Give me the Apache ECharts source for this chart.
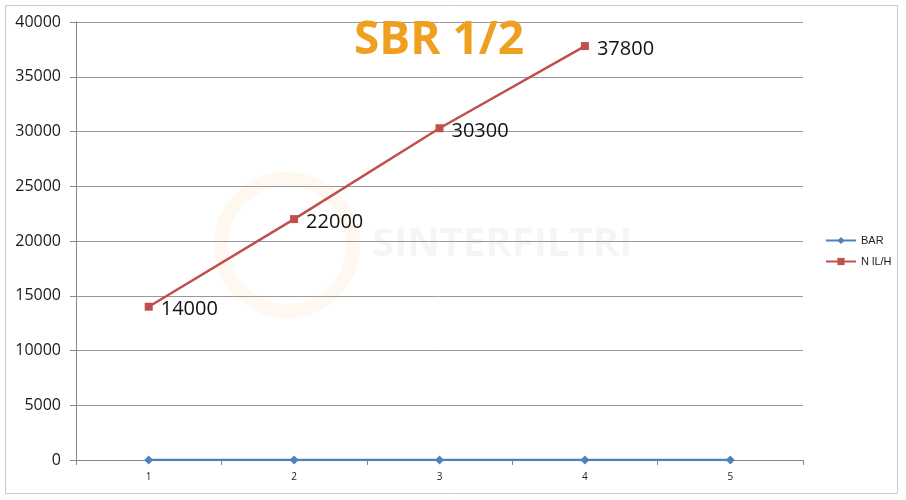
<!DOCTYPE html>
<html><head><meta charset="utf-8">
<script src="https://cdn.jsdelivr.net/npm/echarts@6/dist/echarts.min.js"></script>
<style>html,body{margin:0;padding:0;background:#fff}#c{width:906px;height:500px}</style>
</head><body><div id="c"></div>
<script>
const categories = ['1','2','3','4','5'];
const barValues = [6, 10, 10, 10, 10];
const flowValues = [14000, 22000, 30300, 37800];
const yTicks = {min: 0, max: 40000, interval: 5000};
const titleText = 'SBR 1/2';

const chart = echarts.init(document.getElementById('c'));
chart.setOption({
  animation: false,
  graphic: [
    {type: 'rect', shape: {x: 5.5, y: 5.5, width: 892, height: 488}, style: {fill: 'none', stroke: '#c8c8c8', lineWidth: 1}, z: -10},
    {type: 'circle', shape: {cx: 287, cy: 245, r: 66}, style: {fill: 'none', stroke: 'rgba(245,180,90,0.09)', lineWidth: 14}, z: -5},
    {type: 'text', left: 372, top: 225, style: {text: 'SINTERFILTRI', fill: 'rgba(0,0,0,0.04)', font: 'bold 40px "Open Sans"'}, z: -5}
  ],
  title: {text: titleText, left: 434, top: 13, textAlign: 'center',
    textStyle: {color: '#F0A020', fontSize: 46, fontWeight: 'bold', fontFamily: 'Open Sans'}},
  legend: {orient: 'vertical', left: 820, top: 230, itemGap: 10, itemWidth: 30, itemHeight: 9,
    textStyle: {fontSize: 11, color: '#222', fontFamily: 'Liberation Sans'},
    data: [{name: 'BAR'}, {name: 'N lL/H'}]},
  grid: {left: 76, right: 103, top: 22, bottom: 40},
  xAxis: {type: 'category', data: categories, boundaryGap: true,
    axisLine: {lineStyle: {color: '#888'}},
    axisTick: {show: true, length: 5, lineStyle: {color: '#888'}},
    axisLabel: {fontSize: 10, color: '#222', margin: 12, fontFamily: 'Open Sans'}},
  yAxis: {type: 'value', min: yTicks.min, max: yTicks.max, interval: yTicks.interval,
    axisLine: {show: true, lineStyle: {color: '#888'}},
    axisTick: {show: true, length: 6, lineStyle: {color: '#888'}},
    splitLine: {lineStyle: {color: '#999'}},
    axisLabel: {fontSize: 16, color: '#1a1a1a', margin: 15, fontFamily: 'Open Sans', formatter: v => String(v)}},
  series: [
    {name: 'BAR', type: 'line', data: barValues, symbol: 'diamond', symbolSize: 9,
      lineStyle: {color: '#4F81BD', width: 2.5}, itemStyle: {color: '#4F81BD'}},
    {name: 'N lL/H', type: 'line', data: flowValues, symbol: 'rect', symbolSize: 8,
      lineStyle: {color: '#C0504D', width: 2.5}, itemStyle: {color: '#C0504D'},
      label: {show: true, position: 'right', distance: 8, fontSize: 20, color: '#111', fontFamily: 'Open Sans', offset: [0, 3]}}
  ]
});
</script></body></html>
